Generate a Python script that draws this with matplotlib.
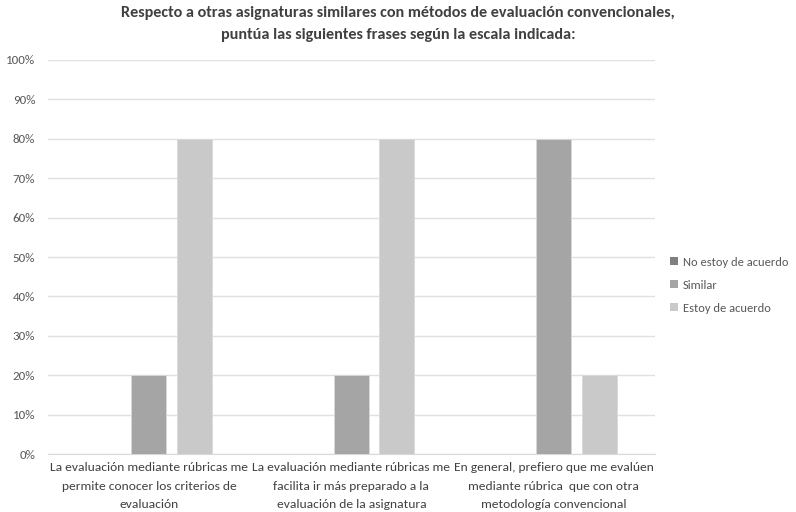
import numpy as np
import matplotlib.pyplot as plt
from matplotlib.patches import Patch
from matplotlib.ticker import PercentFormatter

plt.rcParams["font.family"] = ["Carlito", "DejaVu Sans"]

categories = [
    "La evaluación mediante rúbricas me\npermite conocer los criterios de\nevaluación",
    "La evaluación mediante rúbricas me\nfacilita ir más preparado a la\nevaluación de la asignatura",
    "En general, prefiero que me evalúen\nmediante rúbrica  que con otra\nmetodología convencional",
]
series_names = ["No estoy de acuerdo", "Similar", "Estoy de acuerdo"]
no_estoy = [0, 0, 0]
similar = [20, 20, 80]
estoy = [80, 80, 20]
colors = ["#7f7f7f", "#a5a5a5", "#c9c9c9"]

fig = plt.figure(figsize=(7.96, 5.12), dpi=100)
ax = fig.add_axes([0.060, 0.113, 0.763, 0.770])

x = np.arange(len(categories))
width = 0.173
offset = 0.223
for i, (vals, col) in enumerate(zip([no_estoy, similar, estoy], colors)):
    ax.bar(x + (i - 1) * offset, vals, width, color=col,
           edgecolor="#d9d9d9", linewidth=0.6, zorder=3)

ax.set_xlim(-0.5, 2.5)
ax.set_ylim(0, 100)
ax.set_yticks(np.arange(0, 101, 10))
ax.yaxis.set_major_formatter(PercentFormatter(decimals=0))
ax.set_xticks(x)
ax.set_xticklabels(categories, fontsize=9.7, color="#404040")
for lbl in ax.get_xticklabels():
    lbl.set_linespacing(1.8)
ax.tick_params(axis="y", labelsize=9.4, labelcolor="#595959", length=0, pad=9)
ax.tick_params(axis="x", length=0, pad=6)
ax.grid(axis="y", color="#e0e0e0", linewidth=1, zorder=0)
for s in ["top", "right", "left"]:
    ax.spines[s].set_visible(False)
ax.spines["bottom"].set_color("#d9d9d9")

fig.suptitle("Respecto a otras asignaturas similares con métodos de evaluación convencionales,\n"
             "puntúa las siguientes frases según la escala indicada:",
             x=0.5, y=0.988, fontsize=11.6, fontweight="bold", color="#404040",
             linespacing=1.75)

handles = [Patch(facecolor=c, edgecolor="none") for c in colors]
fig.legend(handles, series_names, loc="center left", bbox_to_anchor=(0.828, 0.443),
           frameon=False, fontsize=9, labelcolor="#595959", handlelength=0.6,
           handleheight=0.6, handletextpad=0.4, labelspacing=0.95)

fig.savefig("out.png", dpi=100)
